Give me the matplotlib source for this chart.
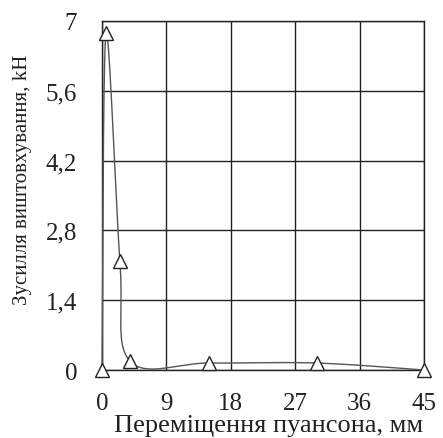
import numpy as np
import matplotlib
matplotlib.use("Agg")
import matplotlib.pyplot as plt

x_vals = [0, 0.55, 2.5, 3.9, 15, 30, 45]
y_vals = [0, 6.75, 2.18, 0.18, 0.14, 0.14, 0]
x_ticks = [0, 9, 18, 27, 36, 45]
y_ticks = [0, 1.4, 2.8, 4.2, 5.6, 7]
y_tick_labels = ["0", "1,4", "2,8", "4,2", "5,6", "7"]
x_label = "Переміщення пуансона, мм"
y_label = "Зусилля виштовхування, kН"

plt.rcParams['font.family'] = ['Liberation Serif', 'DejaVu Serif']

def smooth(xs, ys, n=60, t=0.5):
    # Catmull-Rom style Bezier smoothing (like spreadsheet smoothed lines)
    P = np.column_stack([xs, ys]).astype(float)
    out = []
    for i in range(len(P) - 1):
        p0 = P[i - 1] if i > 0 else P[i]
        p1 = P[i]
        p2 = P[i + 1]
        p3 = P[i + 2] if i + 2 < len(P) else P[i + 1]
        c1 = p1 + (p2 - p0) * t / 3
        c2 = p2 - (p3 - p1) * t / 3
        s = np.linspace(0, 1, n)[:, None]
        seg = (1 - s) ** 3 * p1 + 3 * (1 - s) ** 2 * s * c1 + 3 * (1 - s) * s ** 2 * c2 + s ** 3 * p2
        out.append(seg if i == 0 else seg[1:])
    return np.vstack(out)

fig = plt.figure(figsize=(4.43, 4.39), dpi=100)
ax = fig.add_axes([102 / 443, 1 - 371 / 439, 322 / 443, 349 / 439])

curve = smooth(x_vals, y_vals)
ax.plot(curve[:, 0], curve[:, 1], color='#555555', lw=1.0, zorder=3, clip_on=False)
ax.plot(x_vals, y_vals, ls='none', marker='^', ms=10, mfc='white', mec='#222222', mew=1.0,
        zorder=4, clip_on=False)

ax.set_xlim(0, 45)
ax.set_ylim(0, 7)
ax.set_xticks(x_ticks)
ax.set_yticks(y_ticks)
ax.set_yticklabels(y_tick_labels)
ax.tick_params(length=0, labelsize=18, colors='#222222')
ax.tick_params(axis='y', pad=18)
ax.tick_params(axis='x', pad=16)
ax.grid(True, color='#222222', lw=1.0)
ax.set_axisbelow(True)
for s in ax.spines.values():
    s.set_color('#222222')
    s.set_linewidth(1.0)
ax.set_xlabel(x_label, fontsize=19, color='#222222')
ax.xaxis.set_label_coords(0.516, -0.125)
ax.set_ylabel(y_label, fontsize=15, color='#222222')
ax.yaxis.set_label_coords(-0.217, 0.547)

fig.savefig("out.png", dpi=100)
